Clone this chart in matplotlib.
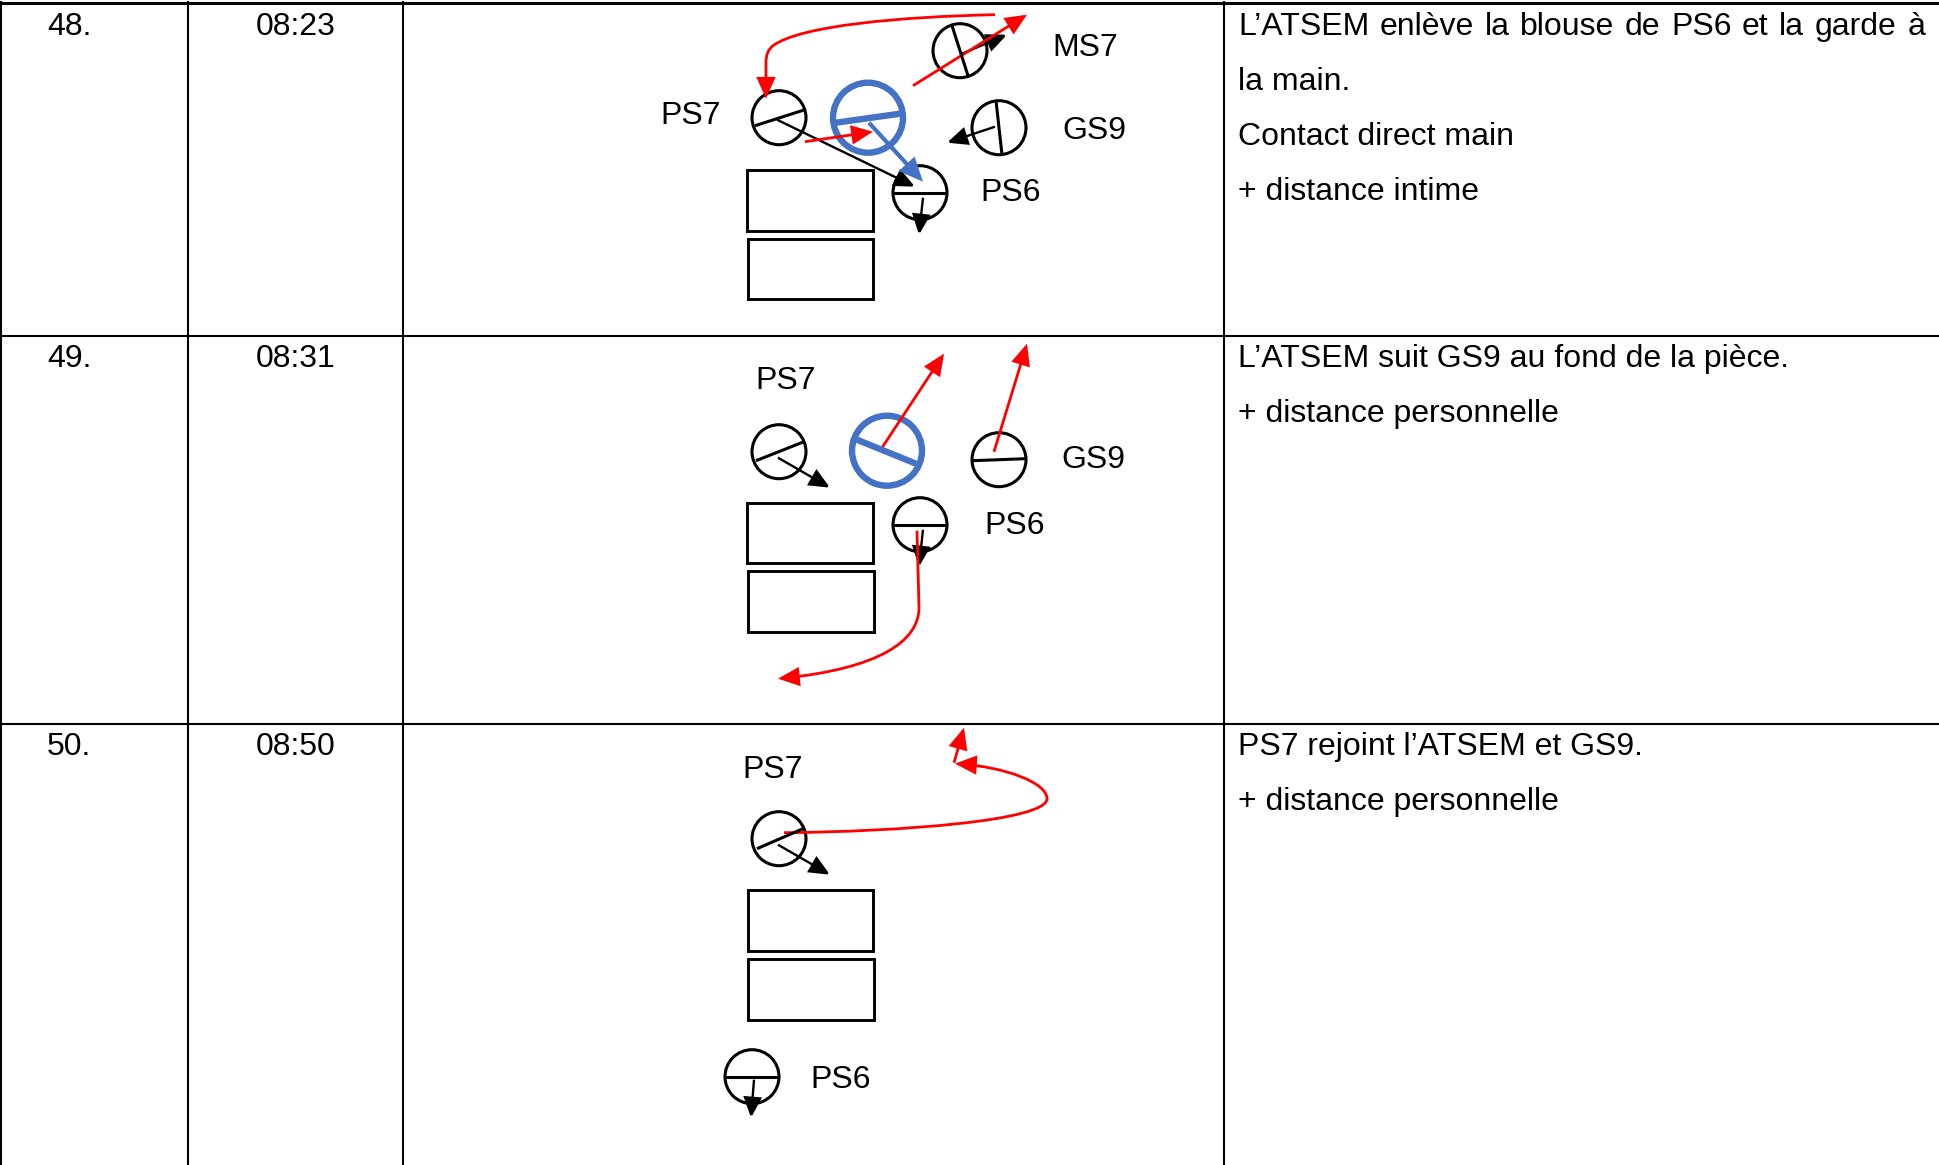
import matplotlib
matplotlib.use('Agg')
import matplotlib.pyplot as plt
from matplotlib.patches import Circle, Rectangle, FancyArrowPatch
from matplotlib.path import Path

plt.rcParams['font.family'] = ['Liberation Sans', 'DejaVu Sans']

BLUE = '#4472c4'
RED = '#ff0000'

# table layout, in pixels of the page
col_lines = [1, 188, 403, 1224]
row_lines = [336, 724]
top_line = 2

numbers = ['48.', '49.', '50.']
times = ['08:23', '08:31', '08:50']
row_text_y = [26, 358, 746]
comments = [
    ["L\u2019ATSEM enlève la blouse de PS6 et la garde à", 'la main.', 'Contact direct main', '+ distance intime'],
    ['L\u2019ATSEM suit GS9 au fond de la pièce.', '+ distance personnelle'],
    ['PS7 rejoint l\u2019ATSEM et GS9.', '+ distance personnelle'],
]
justified_right = 1925

# tables drawn inside the sketches
tables = [
    (747, 169, 126, 61), (748, 238, 125, 60),
    (747, 502, 126, 60), (748, 570, 126, 61),
    (748, 889, 125, 61), (748, 958, 126, 61),
]

# people: centre x, centre y, shoulder line x0, y0, x1, y1
people = [
    (779, 117, 755, 125, 805, 109),
    (960, 50, 952, 25, 968, 75),
    (999, 127, 996, 100, 1002, 154),
    (920, 192, 893, 192, 946, 192),
    (779, 451, 756, 460, 804, 441),
    (999, 459, 973, 460, 1025, 458),
    (920, 524, 893, 524, 946, 524),
    (779, 838, 757, 848, 803, 828),
    (752, 1076, 725, 1076, 779, 1076),
]
atsem = [
    (868, 117, 836, 122, 900, 113),
    (887, 450, 857, 439, 916, 463),
]

black_arrows = [
    (777, 119, 915, 186), (962, 53, 1007, 34), (995, 126, 947, 142), (923, 197, 919, 234),
    (778, 457, 830, 487), (923, 529, 919, 566),
    (778, 844, 830, 874), (754, 1079, 751, 1117),
]
red_arrows = [
    (805, 141, 873, 131), (913, 85, 1027, 14),
    (882, 447, 944, 353), (994, 451, 1027, 343),
    (954, 762, 964, 727),
]
blue_arrows = [(869, 122, 923, 181)]

labels = [
    ('PS7', 691, 113), ('MS7', 1085, 45), ('GS9', 1094, 128), ('PS6', 1011, 190),
    ('PS7', 786, 378), ('GS9', 1093, 457), ('PS6', 1015, 523),
    ('PS7', 773, 767), ('PS6', 841, 1077),
]

# curved red moves
curve_48 = [(995, 14), (900, 16), (800, 25), (773, 45), (768, 49), (766, 54), (766, 62), (766, 98)]
curve_48_codes = [Path.MOVETO] + [Path.CURVE4] * 6 + [Path.LINETO]
curve_49 = [(917, 530), (919, 607), (919, 640), (880, 668), (778, 678)]
curve_49_codes = [Path.MOVETO, Path.LINETO] + [Path.CURVE4] * 3
curve_50 = [(784, 832), (900, 831), (1047, 820), (1047, 798), (1047, 782), (1005, 766), (955, 763)]
curve_50_codes = [Path.MOVETO] + [Path.CURVE4] * 6

fig = plt.figure(figsize=(19.39, 11.65), dpi=100)
ax = fig.add_axes([0, 0, 1, 1])
ax.set_xlim(0, 1939)
ax.set_ylim(1164.3, -0.7)
ax.axis('off')

for x in col_lines:
    ax.plot([x, x], [0, 1165], color='black', lw=1.5, solid_capstyle='butt')
ax.plot([0, 1939], [top_line, top_line], color='black', lw=2.2)
for y in row_lines:
    ax.plot([0, 1939], [y - 0.7, y - 0.7], color='black', lw=1.5)

FS = 23
for num, t, y in zip(numbers, times, row_text_y):
    ax.text(47, y, num, fontsize=FS, va='center')
    ax.text(256, y, t, fontsize=FS, va='center')


def draw_justified(line, x0, x1, y):
    # stretch the gaps so the line fills the cell, like the word processor did
    renderer = fig.canvas.get_renderer()
    words = [ax.text(x0, y, w, fontsize=FS, va='center') for w in line.split(' ')]
    widths = [w.get_window_extent(renderer).width for w in words]
    gap = (x1 - x0 - sum(widths)) / (len(words) - 1)
    x = x0
    for w, width in zip(words, widths):
        w.set_x(x)
        x += width + gap


for r, (lines, y0) in enumerate(zip(comments, row_text_y)):
    for i, line in enumerate(lines):
        y = y0 + i * 55.2
        if r == 0 and i == 0:
            draw_justified(line, 1238, justified_right, y)
        else:
            ax.text(1238, y, line, fontsize=FS, va='center')

for lab, x, y in labels:
    ax.text(x, y + 2, lab, fontsize=FS, ha='center', va='center')

for x, y, w, h in tables:
    ax.add_patch(Rectangle((x, y), w, h, fill=False, ec='black', lw=2.1))


def draw_person(p, color, lw, r):
    cx, cy, x0, y0, x1, y1 = p
    ax.add_patch(Circle((cx, cy), r, fill=False, ec=color, lw=lw))
    ax.plot([x0, x1], [y0, y1], color=color, lw=lw, solid_capstyle='butt')


for p in people:
    draw_person(p, 'black', 2.2, 27)
for p in atsem:
    draw_person(p, BLUE, 4.6, 35)

HEAD = '-|>,head_length=0.72,head_width=0.32'


def draw_arrow(a, color, lw):
    x0, y0, x1, y1 = a
    ax.add_patch(FancyArrowPatch((x0, y0), (x1, y1), arrowstyle=HEAD,
                                 mutation_scale=17, color=color, lw=lw, shrinkA=0, shrinkB=0,
                                 joinstyle='miter', capstyle='butt'))


for a in black_arrows:
    draw_arrow(a, 'black', 1.7)
for a in blue_arrows:
    draw_arrow(a, BLUE, 3)
for a in red_arrows:
    draw_arrow(a, RED, 2)

for verts, codes in [(curve_48, curve_48_codes), (curve_49, curve_49_codes), (curve_50, curve_50_codes)]:
    ax.add_patch(FancyArrowPatch(path=Path(verts, codes), arrowstyle=HEAD,
                                 mutation_scale=17, color=RED, lw=2, shrinkA=0, shrinkB=0,
                                 joinstyle='miter', capstyle='butt'))

fig.savefig('out.png', dpi=100)
